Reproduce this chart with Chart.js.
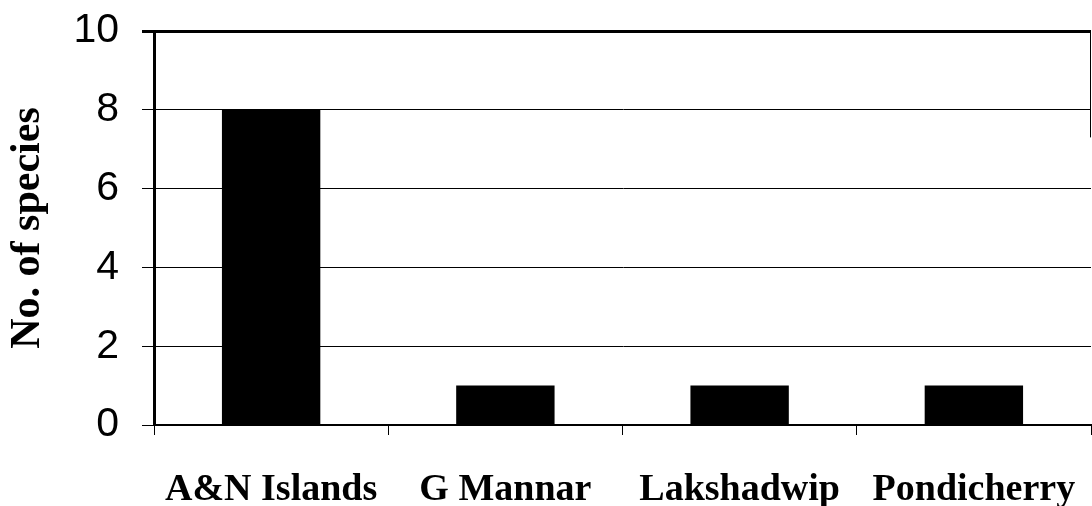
<!DOCTYPE html>
<html>
<head>
<meta charset="utf-8">
<script src="https://cdn.jsdelivr.net/npm/chart.js@4.4.1/dist/chart.umd.min.js"></script>
<style>
html,body{margin:0;padding:0;background:#fff;}
#wrap{width:1092px;height:506px;position:relative;}
</style>
</head>
<body>
<div id="wrap"><canvas id="c" width="1092" height="506"></canvas></div>
<script>
const categories = ["A&N Islands", "G Mannar", "Lakshadwip", "Pondicherry"];
const speciesCounts = [8, 1, 1, 1];
const yTicks = [0, 2, 4, 6, 8, 10];
const yTitle = "No. of species";

const rightEdge = {
  id: 'rightEdge',
  afterDraw(chart) {
    const {ctx, chartArea} = chart;
    const y = chart.scales.y;
    ctx.save();
    ctx.strokeStyle = '#000';
    ctx.lineWidth = 1;
    ctx.beginPath();
    ctx.moveTo(chartArea.right - 0.5, y.getPixelForValue(10));
    ctx.lineTo(chartArea.right - 0.5, y.getPixelForValue(7.3));
    ctx.stroke();
    ctx.restore();
  }
};

new Chart(document.getElementById('c'), {
  type: 'bar',
  data: {
    labels: categories,
    datasets: [{
      data: speciesCounts,
      backgroundColor: '#000',
      borderWidth: 0,
      categoryPercentage: 1.0,
      barPercentage: 0.42
    }]
  },
  plugins: [rightEdge],
  options: {
    responsive: false,
    animation: false,
    layout: { padding: { top: 31, right: 1, left: 0, bottom: 0 } },
    plugins: { legend: { display: false }, tooltip: { enabled: false } },
    scales: {
      x: {
        offset: true,
        grid: { drawOnChartArea: false, drawTicks: true, tickLength: 10, color: '#000', lineWidth: 1 },
        border: { color: '#000', width: 2 },
        ticks: {
          color: '#000',
          padding: 32,
          maxRotation: 0,
          autoSkip: false,
          font: { family: '"Liberation Serif", "Times New Roman", serif', size: 38, weight: 'bold' }
        },
        afterFit(scale) { scale.height = 81; scale.paddingLeft = 0; scale.paddingRight = 0; }
      },
      y: {
        min: 0, max: 10,
        afterBuildTicks(scale) { scale.ticks = yTicks.map(v => ({ value: v })); },
        grid: {
          color: '#000',
          lineWidth: ctx => (ctx.tick && ctx.tick.value === 10 ? 3 : 1),
          tickLength: 12,
          drawTicks: true
        },
        border: { color: '#000', width: 3 },
        ticks: {
          color: '#000',
          padding: 23,
          font: { family: '"Liberation Sans", Arial, sans-serif', size: 41 }
        },
        title: {
          display: true,
          text: yTitle,
          color: '#000',
          padding: { top: 3, bottom: 0 },
          font: { family: '"Liberation Serif", "Times New Roman", serif', size: 42, weight: 'bold' }
        },
        afterFit(scale) { scale.width = 154; scale.paddingTop = 0; scale.paddingBottom = 0; }
      }
    }
  }
});
</script>
</body>
</html>
